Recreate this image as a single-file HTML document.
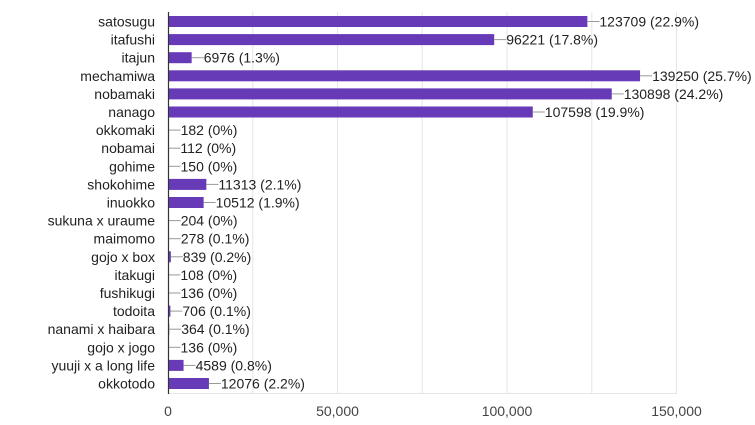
<!DOCTYPE html>
<html><head><meta charset="utf-8"><style>
html,body{margin:0;padding:0;background:#fff;}
svg{display:block;font-family:"Liberation Sans",Arial,sans-serif;}
</style></head><body>
<svg width="755" height="425" xmlns="http://www.w3.org/2000/svg">
<g stroke="#e6e6e6" stroke-width="1">
<line x1="252.75" y1="12" x2="252.75" y2="393"/>
<line x1="337.5" y1="12" x2="337.5" y2="393"/>
<line x1="422.25" y1="12" x2="422.25" y2="393"/>
<line x1="507" y1="12" x2="507" y2="393"/>
<line x1="591.75" y1="12" x2="591.75" y2="393"/>
<line x1="676.5" y1="12" x2="676.5" y2="393"/>
<line x1="168" y1="393.5" x2="677" y2="393.5"/>
</g>
<g fill="#673ab7">
<rect x="168" y="16" width="419.37" height="11"/>
<rect x="168" y="34.1" width="326.19" height="11"/>
<rect x="168" y="52.2" width="23.65" height="11"/>
<rect x="168" y="70.3" width="472.06" height="11"/>
<rect x="168" y="88.4" width="443.74" height="11"/>
<rect x="168" y="106.5" width="364.76" height="11"/>
<rect x="168" y="124.6" width="0.62" height="11"/>
<rect x="168" y="142.7" width="0.38" height="11"/>
<rect x="168" y="160.8" width="0.51" height="11"/>
<rect x="168" y="178.9" width="38.35" height="11"/>
<rect x="168" y="197" width="35.64" height="11"/>
<rect x="168" y="215.1" width="0.69" height="11"/>
<rect x="168" y="233.2" width="0.94" height="11"/>
<rect x="168" y="251.3" width="2.84" height="11"/>
<rect x="168" y="269.4" width="0.37" height="11"/>
<rect x="168" y="287.5" width="0.46" height="11"/>
<rect x="168" y="305.6" width="2.39" height="11"/>
<rect x="168" y="323.7" width="1.23" height="11"/>
<rect x="168" y="341.8" width="0.46" height="11"/>
<rect x="168" y="359.9" width="15.56" height="11"/>
<rect x="168" y="378" width="40.94" height="11"/>
</g>
<g stroke="#999" stroke-width="1">
<line x1="587.4" y1="21.5" x2="599.4" y2="21.5"/>
<line x1="494.2" y1="39.6" x2="506.2" y2="39.6"/>
<line x1="191.7" y1="57.7" x2="203.7" y2="57.7"/>
<line x1="640.1" y1="75.8" x2="652.1" y2="75.8"/>
<line x1="611.7" y1="93.9" x2="623.7" y2="93.9"/>
<line x1="532.8" y1="112" x2="544.8" y2="112"/>
<line x1="168.6" y1="130.1" x2="180.6" y2="130.1"/>
<line x1="168.4" y1="148.2" x2="180.4" y2="148.2"/>
<line x1="168.5" y1="166.3" x2="180.5" y2="166.3"/>
<line x1="206.4" y1="184.4" x2="218.4" y2="184.4"/>
<line x1="203.6" y1="202.5" x2="215.6" y2="202.5"/>
<line x1="168.7" y1="220.6" x2="180.7" y2="220.6"/>
<line x1="168.9" y1="238.7" x2="180.9" y2="238.7"/>
<line x1="170.8" y1="256.8" x2="182.8" y2="256.8"/>
<line x1="168.4" y1="274.9" x2="180.4" y2="274.9"/>
<line x1="168.5" y1="293" x2="180.5" y2="293"/>
<line x1="170.4" y1="311.1" x2="182.4" y2="311.1"/>
<line x1="169.2" y1="329.2" x2="181.2" y2="329.2"/>
<line x1="168.5" y1="347.3" x2="180.5" y2="347.3"/>
<line x1="183.6" y1="365.4" x2="195.6" y2="365.4"/>
<line x1="208.9" y1="383.5" x2="220.9" y2="383.5"/>
</g>
<g font-size="14" fill="#222">
<text x="599.4" y="26.5">123709 (22.9%)</text>
<text x="506.2" y="44.6">96221 (17.8%)</text>
<text x="203.7" y="62.7">6976 (1.3%)</text>
<text x="652.1" y="80.8">139250 (25.7%)</text>
<text x="623.7" y="98.9">130898 (24.2%)</text>
<text x="544.8" y="117">107598 (19.9%)</text>
<text x="180.6" y="135.1">182 (0%)</text>
<text x="180.4" y="153.2">112 (0%)</text>
<text x="180.5" y="171.3">150 (0%)</text>
<text x="218.4" y="189.4">11313 (2.1%)</text>
<text x="215.6" y="207.5">10512 (1.9%)</text>
<text x="180.7" y="225.6">204 (0%)</text>
<text x="180.9" y="243.7">278 (0.1%)</text>
<text x="182.8" y="261.8">839 (0.2%)</text>
<text x="180.4" y="279.9">108 (0%)</text>
<text x="180.5" y="298">136 (0%)</text>
<text x="182.4" y="316.1">706 (0.1%)</text>
<text x="181.2" y="334.2">364 (0.1%)</text>
<text x="180.5" y="352.3">136 (0%)</text>
<text x="195.6" y="370.4">4589 (0.8%)</text>
<text x="220.9" y="388.5">12076 (2.2%)</text>
</g>
<g font-size="14" fill="#222" text-anchor="end">
<text x="155" y="26.5">satosugu</text>
<text x="155" y="44.6">itafushi</text>
<text x="155" y="62.7">itajun</text>
<text x="155" y="80.8">mechamiwa</text>
<text x="155" y="98.9">nobamaki</text>
<text x="155" y="117">nanago</text>
<text x="155" y="135.1">okkomaki</text>
<text x="155" y="153.2">nobamai</text>
<text x="155" y="171.3">gohime</text>
<text x="155" y="189.4">shokohime</text>
<text x="155" y="207.5">inuokko</text>
<text x="155" y="225.6">sukuna x uraume</text>
<text x="155" y="243.7">maimomo</text>
<text x="155" y="261.8">gojo x box</text>
<text x="155" y="279.9">itakugi</text>
<text x="155" y="298">fushikugi</text>
<text x="155" y="316.1">todoita</text>
<text x="155" y="334.2">nanami x haibara</text>
<text x="155" y="352.3">gojo x jogo</text>
<text x="155" y="370.4">yuuji x a long life</text>
<text x="155" y="388.5">okkotodo</text>
</g>
<line x1="168.5" y1="12" x2="168.5" y2="394" stroke="#333" stroke-width="1.2"/>
<g font-size="14" fill="#444" text-anchor="middle">
<text x="168" y="416">0</text>
<text x="337.5" y="416">50,000</text>
<text x="507" y="416">100,000</text>
<text x="676.5" y="416">150,000</text>
</g>
</svg>
</body></html>
